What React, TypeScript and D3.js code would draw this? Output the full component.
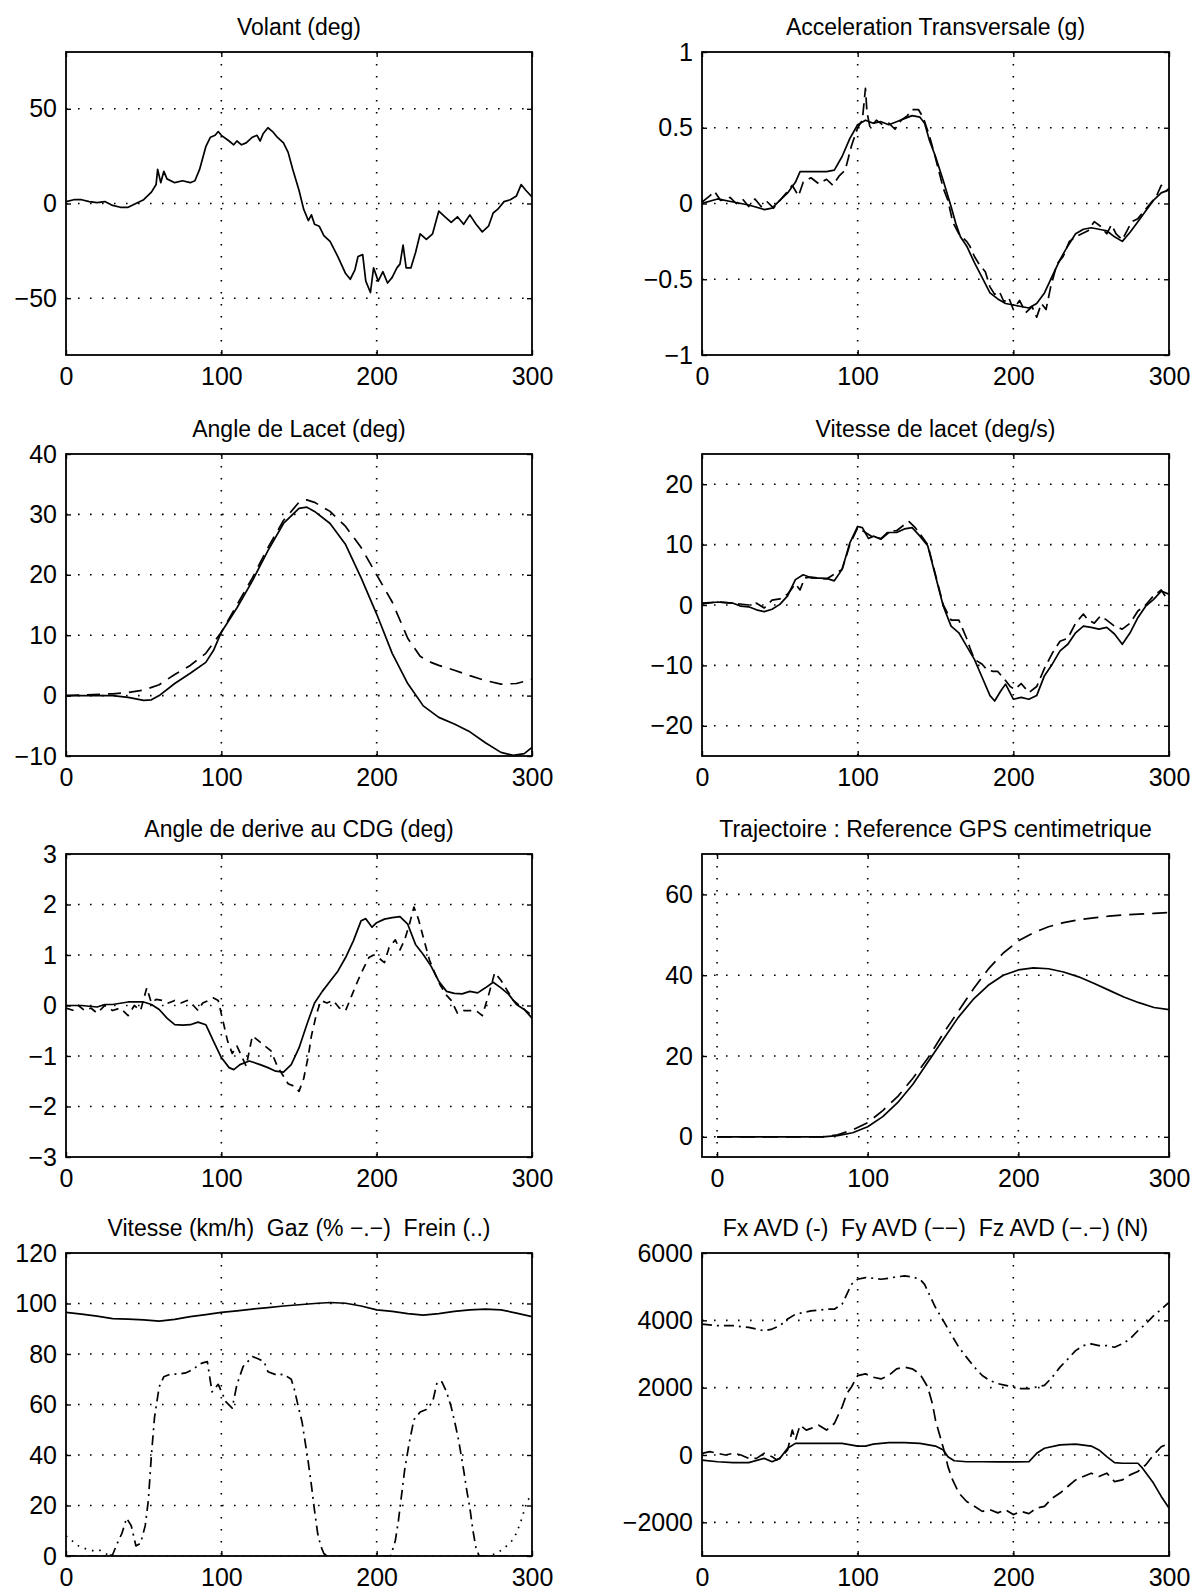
import * as d3 from "d3";
import { FC, useEffect, useRef } from "react";

const WIDTH = 1198;
const HEIGHT = 1595;

type Pt = [number, number];

// ---- data (time 0..300) ----
const timeTicks = [0, 100, 200, 300];

const volantTicks = [-50, 0, 50];
const volant: Pt[] = [
  [0, 1], [5, 2], [10, 2], [15, 1], [20, 0.5], [25, 1], [30, -1], [35, -2], [40, -2], [45, 0],
  [50, 2], [55, 6], [58, 10], [59, 18], [61, 11], [63, 17], [65, 13], [70, 11], [75, 12], [80, 11],
  [83, 12], [86, 18], [90, 30], [93, 35], [96, 36], [98, 38], [100, 36], [105, 33], [108, 31], [110, 33],
  [113, 31], [116, 32], [120, 35], [123, 36], [125, 33], [127, 37], [130, 40], [133, 38], [136, 35], [140, 32],
  [143, 27], [146, 18], [150, 7], [153, -3], [156, -9], [158, -6], [160, -11], [163, -12], [166, -17], [170, -20],
  [175, -28], [180, -37], [183, -40], [186, -35], [188, -28], [191, -27], [193, -41], [196, -47], [198, -34], [201, -41],
  [204, -36], [207, -42], [210, -39], [213, -34], [215, -32], [217, -22], [219, -34], [222, -34], [225, -26], [228, -16],
  [232, -19], [236, -16], [240, -4], [244, -7], [248, -10], [252, -7], [256, -11], [260, -6], [264, -11], [268, -15],
  [272, -12], [275, -5], [278, -3], [282, 1], [286, 2], [290, 4], [293, 10], [296, 7], [300, 3.5],
];

const accelTicks = [-1, -0.5, 0, 0.5, 1];
const accelSolid: Pt[] = [
  [0, 0], [10, 0.03], [20, 0.01], [30, -0.01], [40, -0.04], [45, -0.03], [50, 0.02], [55, 0.07], [60, 0.14], [63, 0.21],
  [70, 0.21], [80, 0.21], [85, 0.22], [90, 0.31], [95, 0.43], [100, 0.52], [105, 0.55], [110, 0.53], [115, 0.54], [120, 0.52],
  [125, 0.54], [130, 0.56], [135, 0.58], [140, 0.57], [143, 0.53], [146, 0.42], [150, 0.31], [155, 0.15], [160, -0.02], [163, -0.13],
  [166, -0.22], [170, -0.28], [175, -0.39], [180, -0.49], [185, -0.59], [190, -0.63], [195, -0.66], [200, -0.67], [205, -0.68], [210, -0.69],
  [215, -0.66], [220, -0.59], [225, -0.48], [230, -0.37], [235, -0.28], [240, -0.2], [245, -0.17], [250, -0.16], [255, -0.17], [260, -0.18],
  [265, -0.22], [270, -0.25], [275, -0.19], [280, -0.12], [285, -0.05], [290, 0.02], [295, 0.07], [300, 0.09],
];
const accelDashed: Pt[] = [
  [0, 0.01], [5, 0.05], [8, 0.08], [12, 0.02], [18, 0.04], [22, 0], [26, 0.03], [30, -0.02], [34, 0.03], [38, -0.02],
  [42, 0.01], [46, -0.03], [50, 0.02], [55, 0.08], [58, 0.12], [62, 0.05], [65, 0.14], [70, 0.17], [75, 0.13], [80, 0.16],
  [84, 0.12], [88, 0.18], [92, 0.22], [96, 0.38], [100, 0.5], [103, 0.55], [105, 0.76], [106, 0.6], [108, 0.5], [112, 0.55],
  [116, 0.52], [120, 0.53], [124, 0.49], [128, 0.55], [132, 0.58], [135, 0.62], [139, 0.62], [142, 0.57], [146, 0.45], [150, 0.3],
  [155, 0.1], [158, 0.02], [161, -0.12], [165, -0.2], [170, -0.25], [172, -0.28], [175, -0.35], [178, -0.4], [182, -0.45], [185, -0.55],
  [188, -0.6], [191, -0.58], [194, -0.65], [197, -0.62], [200, -0.7], [204, -0.64], [208, -0.72], [212, -0.68], [215, -0.75], [218, -0.66],
  [221, -0.7], [224, -0.55], [228, -0.4], [232, -0.35], [236, -0.25], [240, -0.22], [244, -0.2], [248, -0.18], [252, -0.12], [256, -0.15],
  [260, -0.2], [263, -0.14], [266, -0.2], [270, -0.24], [273, -0.18], [276, -0.12], [280, -0.1], [284, -0.05], [288, 0], [292, 0.05],
  [295, 0.12], [298, 0.08], [300, 0.1],
];

const lacetTicks = [-10, 0, 10, 20, 30, 40];
const lacetSolid: Pt[] = [
  [0, 0], [20, 0], [30, 0], [40, -0.3], [50, -0.8], [55, -0.7], [60, 0], [70, 2], [80, 3.7], [90, 5.5],
  [95, 7.5], [100, 10.5], [110, 14.5], [120, 19], [130, 24], [140, 28.5], [150, 31], [155, 31.2], [160, 30.5], [170, 28.5],
  [180, 25], [190, 19.5], [200, 13.5], [210, 7], [220, 2], [230, -1.7], [240, -3.6], [250, -4.7], [260, -6], [270, -7.8],
  [280, -9.4], [288, -9.9], [295, -9.6], [300, -8.6],
];
const lacetDashed: Pt[] = [
  [0, 0], [30, 0.3], [40, 0.5], [50, 0.9], [60, 1.8], [70, 3.5], [80, 5], [90, 7], [100, 10.5], [110, 15],
  [120, 19.5], [130, 24.5], [140, 29], [150, 32], [155, 32.4], [160, 32], [170, 30.5], [180, 28], [190, 24.5], [200, 20],
  [210, 15.5], [220, 9.5], [228, 6.5], [235, 5.5], [240, 5], [250, 4.2], [260, 3.3], [270, 2.5], [280, 1.9], [290, 2],
  [300, 2.7],
];

const vitLacetTicks = [-20, -10, 0, 10, 20];
const vitLacetSolid: Pt[] = [
  [0, 0.2], [10, 0.5], [20, 0.3], [25, -0.2], [30, -0.3], [35, -0.8], [40, -1.1], [45, -0.7], [50, 0.1], [55, 1.5],
  [60, 4.2], [65, 5], [70, 4.5], [80, 4.4], [85, 4], [90, 5.9], [95, 10.3], [100, 13], [103, 12.8], [107, 11],
  [110, 11.4], [115, 10.9], [120, 12], [125, 12], [130, 12.6], [135, 12.8], [140, 11.4], [145, 9.8], [150, 4.8], [155, -0.2],
  [160, -3.5], [165, -4.6], [170, -6.8], [175, -9], [180, -12], [185, -15], [188, -15.9], [192, -14.2], [195, -13.1], [200, -15.6],
  [205, -15.3], [210, -15.6], [215, -15], [220, -11.7], [225, -9.8], [230, -7.6], [235, -6.5], [240, -4.6], [245, -3.5], [250, -3.7],
  [255, -4], [260, -3.7], [265, -4.8], [270, -6.5], [275, -4.6], [280, -2.1], [285, -0.2], [290, 0.9], [295, 2.3], [300, 1.8],
];
const vitLacetDashed: Pt[] = [
  [0, 0.3], [10, 0.5], [20, 0.3], [30, 0], [35, 0.3], [40, -0.5], [45, 0.8], [50, 1], [55, 1.8], [60, 3.5],
  [63, 2.5], [66, 4.5], [70, 4.6], [80, 4.3], [90, 5.9], [95, 10], [100, 12.8], [105, 12], [110, 11.2], [115, 11],
  [120, 12.2], [125, 12.3], [130, 13.3], [133, 13.8], [137, 12.8], [140, 11.8], [145, 10], [150, 5], [155, 0], [160, -2.5],
  [165, -2.5], [170, -5.5], [172, -7], [175, -9], [180, -9.8], [183, -10.7], [187, -11], [190, -11], [195, -12.5], [198, -13.5],
  [201, -14], [205, -13], [210, -14.5], [215, -13.5], [220, -10.5], [225, -8], [230, -6], [235, -5.5], [240, -3], [245, -1.5],
  [248, -2.5], [252, -3], [256, -1.8], [260, -2.5], [265, -3.5], [270, -4], [275, -3], [280, -1], [285, 0], [290, 1.5],
  [295, 2.5], [300, 0.5],
];

const deriveTicks = [-3, -2, -1, 0, 1, 2, 3];
const deriveSolid: Pt[] = [
  [0, 0], [10, 0], [20, -0.03], [25, 0.02], [30, 0.02], [40, 0.07], [50, 0.07], [55, 0.02], [60, -0.08], [65, -0.25],
  [70, -0.38], [75, -0.39], [80, -0.38], [85, -0.33], [90, -0.38], [95, -0.71], [100, -1.03], [105, -1.23], [108, -1.27], [112, -1.17],
  [118, -1.1], [125, -1.17], [130, -1.23], [135, -1.3], [140, -1.32], [145, -1.17], [150, -0.84], [155, -0.38], [160, 0.05], [165, 0.28],
  [170, 0.48], [175, 0.68], [180, 0.95], [185, 1.28], [190, 1.68], [193, 1.72], [197, 1.55], [200, 1.64], [205, 1.71], [210, 1.74],
  [215, 1.76], [220, 1.61], [225, 1.21], [230, 1.01], [235, 0.78], [240, 0.48], [245, 0.28], [250, 0.24], [255, 0.23], [260, 0.28],
  [265, 0.25], [270, 0.35], [275, 0.46], [280, 0.35], [285, 0.22], [290, 0.02], [295, -0.08], [300, -0.25],
];
const deriveDashed: Pt[] = [
  [0, -0.05], [5, -0.1], [8, 0], [12, -0.1], [16, -0.05], [20, -0.15], [25, 0], [30, -0.1], [35, -0.05], [40, -0.2],
  [44, 0], [48, -0.1], [52, 0.35], [55, 0.05], [58, 0.12], [62, 0.1], [66, 0.05], [70, 0.1], [74, 0.05], [78, 0.1],
  [82, 0], [85, -0.1], [88, 0.05], [92, 0.1], [95, 0.15], [98, 0.1], [101, -0.3], [104, -0.7], [107, -0.95], [110, -0.8],
  [113, -1], [116, -1.2], [120, -0.6], [124, -0.7], [128, -0.8], [132, -0.9], [136, -1.2], [140, -1.4], [143, -1.55], [147, -1.6],
  [150, -1.7], [153, -1.45], [156, -1], [158, -0.6], [161, -0.2], [164, 0.1], [168, 0.05], [172, 0.1], [176, -0.05], [180, -0.1],
  [184, 0.2], [188, 0.5], [191, 0.7], [195, 0.95], [198, 1], [201, 0.95], [205, 0.85], [208, 1.15], [212, 1.3], [215, 1.1],
  [218, 1.3], [221, 1.6], [224, 1.95], [227, 1.7], [230, 1.35], [234, 0.9], [238, 0.6], [241, 0.4], [245, 0.2], [248, 0.1],
  [252, -0.15], [256, -0.1], [260, -0.1], [264, -0.1], [268, -0.2], [272, 0.2], [276, 0.65], [280, 0.5], [284, 0.3], [288, 0.1],
  [292, 0], [296, -0.1], [300, -0.2],
];

const trajTicks = [0, 20, 40, 60];
const trajSolid: Pt[] = [
  [0, 0], [30, 0], [60, 0], [70, 0], [80, 0.3], [90, 1], [100, 2.5], [110, 5], [120, 8.5], [130, 13],
  [140, 18.5], [150, 24], [160, 29.5], [170, 34], [180, 37.5], [190, 40], [200, 41.3], [210, 41.8], [220, 41.6], [230, 40.8],
  [240, 39.6], [250, 38], [260, 36.3], [270, 34.6], [280, 33.2], [290, 32], [300, 31.5],
];
const trajDashed: Pt[] = [
  [0, 0], [30, 0], [60, 0], [70, 0], [80, 0.5], [90, 1.7], [100, 3.5], [110, 6.5], [120, 10], [130, 14.5],
  [140, 19.5], [150, 25.5], [160, 31], [170, 36.5], [180, 41.5], [190, 45.5], [200, 48.5], [210, 50.5], [220, 52], [230, 53],
  [240, 53.7], [250, 54.2], [260, 54.6], [270, 54.9], [280, 55.1], [290, 55.3], [300, 55.5],
];

const vitesseTicks = [0, 20, 40, 60, 80, 100, 120];
const vitesse: Pt[] = [
  [0, 96.5], [10, 95.8], [20, 95], [30, 94], [40, 93.8], [50, 93.5], [60, 93], [70, 93.7], [80, 94.8], [90, 95.6],
  [100, 96.5], [110, 97.1], [120, 97.8], [130, 98.4], [140, 99], [150, 99.5], [160, 100], [170, 100.4], [180, 100.1], [190, 99],
  [200, 97.5], [210, 96.9], [220, 96], [230, 95.4], [240, 96], [250, 96.9], [260, 97.5], [270, 97.8], [280, 97.5], [290, 96.2],
  [300, 94.8],
];
const gaz: Pt[] = [
  [0, 0], [25, 0], [30, 0.5], [33, 5], [36, 9], [39, 15], [42, 12], [45, 4], [48, 5], [51, 12],
  [53, 22], [55, 40], [57, 55], [60, 67], [63, 71], [67, 72], [72, 72], [77, 72.5], [82, 74], [86, 76],
  [88, 76.5], [91, 77], [94, 65], [98, 68], [103, 61], [107, 58.6], [110, 67.8], [114, 75], [120, 79], [124, 78],
  [127.5, 77], [130, 73], [136, 71.6], [140, 72], [145, 70], [147, 66], [150, 58], [152, 53], [154, 45], [156, 37],
  [158, 28], [160, 18], [162, 9], [164, 4], [166, 1], [168, 0], [209, 0], [212, 6], [214, 14], [216, 24],
  [218, 34], [221, 45], [224, 54], [228, 57], [232, 58], [236, 61], [239, 69], [242, 69], [245, 65], [248, 59],
  [251, 51], [253, 45], [256, 34], [258, 26], [260, 19], [262, 10], [264, 3], [266, 0], [300, 0],
];
const frein: Pt[] = [
  [0, 8], [3, 6.5], [6, 5], [9, 3.5], [12, 3], [15, 2.5], [18, 2], [21, 2.5], [24, 1.5], [27, 0.5],
  [30, 0], [100, 0], [200, 0], [272, 0], [277, 1], [282, 3], [287, 6], [290, 9], [293, 14], [297, 22],
  [300, 24],
];

const forceTicks = [-2000, 0, 2000, 4000, 6000];
const fx: Pt[] = [
  [0, -150], [10, -200], [20, -225], [30, -225], [40, -100], [45, -200], [50, -100], [55, 200], [60, 345], [70, 345],
  [80, 345], [90, 345], [100, 265], [105, 265], [110, 325], [120, 365], [130, 365], [140, 345], [150, 265], [155, 150],
  [158, -50], [162, -170], [170, -200], [180, -200], [190, -205], [200, -205], [210, -200], [215, 50], [220, 200], [230, 300],
  [240, 325], [250, 265], [255, 150], [260, -50], [265, -225], [270, -245], [280, -245], [283, -390], [290, -835], [295, -1230],
  [300, -1575],
];
const fy: Pt[] = [
  [0, 50], [5, 100], [10, 50], [15, 0], [20, 50], [25, 0], [30, -100], [35, -100], [40, 50], [45, -50],
  [48, -150], [50, -100], [55, 150], [58, 740], [60, 440], [63, 885], [67, 740], [70, 790], [75, 885], [80, 740],
  [85, 935], [88, 1230], [90, 1430], [93, 1820], [96, 2020], [100, 2360], [105, 2410], [110, 2310], [115, 2260], [120, 2360],
  [125, 2560], [130, 2610], [135, 2560], [140, 2410], [145, 2020], [148, 1525], [150, 1035], [153, 540], [156, 50], [158, -345],
  [161, -740], [165, -1130], [170, -1380], [175, -1525], [180, -1675], [185, -1625], [190, -1720], [195, -1625], [200, -1770], [205, -1675],
  [210, -1740], [215, -1575], [220, -1525], [225, -1280], [230, -1130], [235, -935], [240, -740], [245, -640], [250, -540], [255, -640],
  [260, -540], [265, -790], [270, -740], [275, -590], [280, -490], [285, -295], [290, 0], [295, 245], [300, 345],
];
const fz: Pt[] = [
  [0, 3890], [10, 3840], [20, 3840], [30, 3790], [40, 3690], [45, 3740], [50, 3840], [55, 4040], [60, 4180], [65, 4230],
  [70, 4280], [80, 4330], [85, 4330], [90, 4480], [93, 4770], [96, 5070], [100, 5220], [105, 5270], [110, 5250], [115, 5220],
  [120, 5250], [125, 5290], [130, 5320], [135, 5290], [140, 5220], [143, 5070], [146, 4770], [150, 4380], [155, 3990], [160, 3590],
  [165, 3200], [170, 2900], [175, 2610], [180, 2360], [185, 2210], [190, 2120], [195, 2070], [200, 2020], [205, 1970], [210, 1970],
  [215, 2020], [220, 2070], [225, 2310], [230, 2610], [235, 2850], [240, 3100], [245, 3250], [250, 3300], [255, 3250], [260, 3250],
  [265, 3200], [270, 3300], [275, 3450], [280, 3690], [285, 3890], [290, 4130], [295, 4330], [300, 4530],
];

// ---- layout ----
const COL_X = [
  [66, 532],
  [702, 1169],
];
const ROW_Y = [
  [52, 355],
  [454, 756],
  [854, 1157],
  [1253, 1556],
];
const FONT = "'Liberation Sans', Arial, Helvetica, sans-serif";
const SOLID = "none";
const DASHED = "12,6";
const DASHDOT = "10,5,2,5";
const DOTTED = "1.6,6";

type Panel = {
  title: string;
  col: number;
  row: number;
  xDomain: [number, number];
  yDomain: [number, number];
  yTicks: number[];
  series: { points: Pt[]; dash: string }[];
};

const PANELS: Panel[] = [
  { title: "Volant (deg)", col: 0, row: 0, xDomain: [0, 300], yDomain: [-80, 80], yTicks: volantTicks,
    series: [{ points: volant, dash: SOLID }] },
  { title: "Acceleration Transversale (g)", col: 1, row: 0, xDomain: [0, 300], yDomain: [-1, 1], yTicks: accelTicks,
    series: [{ points: accelDashed, dash: DASHED }, { points: accelSolid, dash: SOLID }] },
  { title: "Angle de Lacet (deg)", col: 0, row: 1, xDomain: [0, 300], yDomain: [-10, 40], yTicks: lacetTicks,
    series: [{ points: lacetDashed, dash: "13,8" }, { points: lacetSolid, dash: SOLID }] },
  { title: "Vitesse de lacet (deg/s)", col: 1, row: 1, xDomain: [0, 300], yDomain: [-25, 25], yTicks: vitLacetTicks,
    series: [{ points: vitLacetDashed, dash: DASHED }, { points: vitLacetSolid, dash: SOLID }] },
  { title: "Angle de derive au CDG (deg)", col: 0, row: 2, xDomain: [0, 300], yDomain: [-3, 3], yTicks: deriveTicks,
    series: [{ points: deriveDashed, dash: "8,6" }, { points: deriveSolid, dash: SOLID }] },
  { title: "Trajectoire : Reference GPS centimetrique", col: 1, row: 2, xDomain: [-10, 300], yDomain: [-5, 70], yTicks: trajTicks,
    series: [{ points: trajDashed, dash: "15,8" }, { points: trajSolid, dash: SOLID }] },
  { title: "Vitesse (km/h)  Gaz (% \u2212.\u2212)  Frein (..)", col: 0, row: 3, xDomain: [0, 300], yDomain: [0, 120], yTicks: vitesseTicks,
    series: [{ points: vitesse, dash: SOLID }, { points: gaz, dash: DASHDOT }, { points: frein, dash: DOTTED }] },
  { title: "Fx AVD (-)  Fy AVD (\u2212\u2212)  Fz AVD (\u2212.\u2212) (N)", col: 1, row: 3, xDomain: [0, 300], yDomain: [-3000, 6000], yTicks: forceTicks,
    series: [{ points: fx, dash: SOLID }, { points: fy, dash: DASHED }, { points: fz, dash: DASHDOT }] },
];

const App: FC = () => {
  const svgRef = useRef<SVGSVGElement | null>(null);

  useEffect(() => {
    if (!svgRef.current) return;
    const svg = d3.select(svgRef.current);
    svg.selectAll("*").remove();
    svg.append("rect").attr("width", WIDTH).attr("height", HEIGHT).attr("fill", "#fff");
    const defs = svg.append("defs");

    PANELS.forEach((p, i) => {
      const [x0, x1] = COL_X[p.col];
      const [y0, y1] = ROW_Y[p.row];
      const x = d3.scaleLinear(p.xDomain, [x0, x1]);
      const y = d3.scaleLinear(p.yDomain, [y1, y0]);
      const g = svg.append("g");

      defs
        .append("clipPath")
        .attr("id", `clip${i}`)
        .append("rect")
        .attr("x", x0)
        .attr("y", y0)
        .attr("width", x1 - x0)
        .attr("height", y1 - y0);

      // dotted grid
      const grid = g
        .append("g")
        .attr("stroke", "#000")
        .attr("stroke-width", 1.6)
        .attr("stroke-dasharray", "1.6,10.4");
      grid
        .selectAll(".vx")
        .data(timeTicks.filter((t) => t > p.xDomain[0] && t < p.xDomain[1]))
        .join("line")
        .attr("x1", (d) => x(d))
        .attr("x2", (d) => x(d))
        .attr("y1", y0)
        .attr("y2", y1);
      grid
        .selectAll(".hy")
        .data(p.yTicks.filter((t) => t > p.yDomain[0] && t < p.yDomain[1]))
        .join("line")
        .attr("x1", x0)
        .attr("x2", x1)
        .attr("y1", (d) => y(d))
        .attr("y2", (d) => y(d));

      // curves
      const line = d3
        .line<Pt>()
        .x((d) => x(d[0]))
        .y((d) => y(d[1]));
      p.series.forEach((s) => {
        g.append("path")
          .attr("d", line(s.points) || "")
          .attr("fill", "none")
          .attr("stroke", "#000")
          .attr("stroke-width", 1.7)
          .attr("stroke-linejoin", "round")
          .attr("stroke-dasharray", s.dash)
          .attr("clip-path", `url(#clip${i})`);
      });

      // box
      g.append("rect")
        .attr("x", x0)
        .attr("y", y0)
        .attr("width", x1 - x0)
        .attr("height", y1 - y0)
        .attr("fill", "none")
        .attr("stroke", "#000")
        .attr("stroke-width", 1.8);

      // axes (inward ticks, MATLAB style)
      const style = (sel: d3.Selection<SVGGElement, unknown, null, undefined>) => {
        sel.select(".domain").remove();
        sel.attr("font-family", FONT).attr("font-size", 25);
        sel.selectAll("line").attr("stroke-width", 1.4);
        sel.selectAll("text").attr("fill", "#000");
      };
      const fmt = (d: d3.NumberValue) => d3.format("")(d as number);

      g.append("g")
        .attr("transform", `translate(${x0},0)`)
        .call(d3.axisLeft(y).tickValues(p.yTicks).tickSize(-5).tickPadding(9).tickFormat(fmt))
        .call(style);
      g.append("g")
        .attr("transform", `translate(${x1},0)`)
        .call(d3.axisRight(y).tickValues(p.yTicks).tickSize(-5).tickFormat(() => ""))
        .call(style);
      g.append("g")
        .attr("transform", `translate(0,${y1})`)
        .call(d3.axisBottom(x).tickValues(timeTicks).tickSize(-5).tickPadding(12).tickFormat(fmt))
        .call(style);
      g.append("g")
        .attr("transform", `translate(0,${y0})`)
        .call(d3.axisTop(x).tickValues(timeTicks).tickSize(-5).tickFormat(() => ""))
        .call(style);

      // title
      g.append("text")
        .attr("x", (x0 + x1) / 2)
        .attr("y", y0 - 17)
        .attr("text-anchor", "middle")
        .attr("font-family", FONT)
        .attr("font-size", 23)
        .style("white-space", "pre")
        .text(p.title);
    });
  }, []);

  return (
    <svg
      ref={svgRef}
      width={WIDTH}
      height={HEIGHT}
      style={{ position: "absolute", left: 0, top: 0, background: "#fff" }}
    />
  );
};

export default App;
